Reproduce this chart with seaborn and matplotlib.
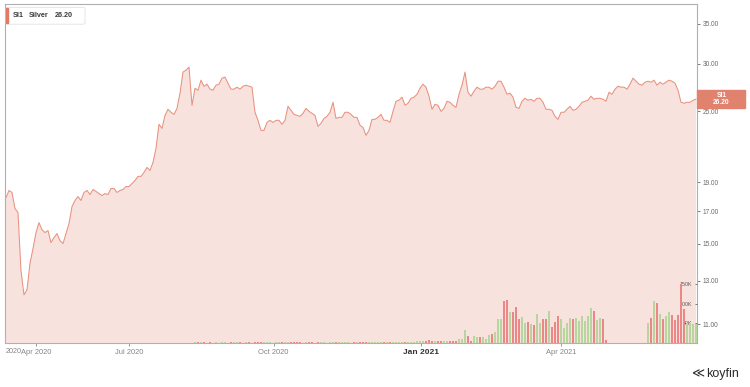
import numpy as np
import pandas as pd
import seaborn as sns
import matplotlib.pyplot as plt
from matplotlib.patches import Rectangle, FancyBboxPatch
from matplotlib.ticker import NullLocator

# -------------------------------------------------
# Data (SI1 silver continuous, one value per bar)
# -------------------------------------------------
price = [
    17.92, 18.42, 18.28, 17.18, 16.92, 13.52, 12.32, 12.56, 13.91, 14.72,
    15.66, 16.27, 15.84, 15.66, 15.78, 15.07, 15.36, 15.60, 15.18, 15.01,
    15.60, 16.21, 17.31, 17.72, 17.99, 17.72, 18.28, 18.42, 18.13, 18.49,
    18.35, 18.20, 18.06, 18.20, 18.13, 18.56, 18.56, 18.28, 18.42, 18.49,
    18.70, 18.70, 18.92, 19.14, 19.45, 19.45, 19.75, 20.13, 19.90, 20.52,
    21.67, 23.77, 23.40, 24.61, 25.19, 24.90, 24.70, 25.28, 26.80, 29.07,
    29.29, 29.64, 25.58, 27.32, 27.11, 28.18, 27.53, 27.75, 27.22, 27.11,
    27.64, 27.75, 28.40, 28.51, 27.85, 27.22, 27.22, 27.43, 27.22, 27.53,
    27.64, 27.53, 27.43, 24.90, 24.14, 23.22, 23.22, 23.95, 24.14, 23.95,
    24.14, 24.14, 23.77, 24.14, 25.48, 25.09, 24.70, 24.61, 24.51, 24.80,
    25.28, 24.99, 24.80, 24.61, 23.58, 23.86, 24.32, 24.51, 24.90, 25.88,
    24.32, 24.42, 24.42, 24.90, 24.90, 24.70, 24.42, 24.42, 23.68, 23.49,
    22.78, 23.22, 24.23, 24.23, 24.42, 24.70, 24.14, 24.14, 23.95, 24.99,
    25.98, 26.08, 26.39, 25.58, 25.78, 26.28, 26.39, 26.69, 27.32, 27.75,
    27.43, 26.49, 25.19, 25.68, 25.58, 24.99, 25.28, 25.98, 25.88, 25.58,
    25.38, 26.69, 27.64, 29.07, 26.90, 26.49, 27.01, 27.43, 27.22, 27.22,
    27.43, 27.43, 27.22, 27.53, 28.07, 28.07, 27.43, 26.69, 26.80, 26.39,
    25.38, 25.28, 25.98, 26.28, 26.08, 26.18, 25.98, 26.28, 26.28, 25.88,
    25.19, 25.19, 25.09, 24.51, 24.23, 24.90, 24.90, 25.19, 25.48, 25.09,
    25.19, 25.48, 25.88, 25.98, 26.08, 26.49, 26.18, 26.28, 26.28, 26.18,
    25.98, 26.90, 26.69, 27.22, 27.53, 27.43, 27.43, 27.22, 27.75, 28.40,
    28.07, 27.75, 27.64, 27.96, 28.07, 27.96, 28.18, 27.64, 27.96, 27.75,
    27.96, 28.18, 28.07, 27.85, 27.11, 25.88, 25.78, 25.88, 25.88, 26.08,
    26.20,
]

# volume, thousands of contracts
volume = [0] * 62 + [
    0, 1, 2, 2, 1, 0, 1, 0, 1, 0,
    1, 1, 0, 1, 2, 2, 1, 0, 1, 1,
    0, 1, 1, 2, 2, 1, 1, 0, 1, 1,
    2, 2, 2, 1, 1, 1, 1, 0, 1, 1,
    1, 0, 1, 1, 1, 0, 1, 2, 2, 2,
    1, 1, 1, 0, 1, 2, 2, 2, 1, 2,
    2, 1, 2, 2, 1, 2, 2, 1, 1, 1,
    2, 2, 2, 2, 2, 3, 5, 4, 3, 6,
    5, 4, 3, 5, 4, 3, 4, 5, 4,
    8, 8, 33, 16, 5, 16, 15, 13, 13, 8,
    19, 22, 26, 59, 59, 106, 110, 78, 78, 91,
    61, 65, 50, 53, 47, 46, 74, 50, 59, 60,
    81, 40, 53, 69, 61, 36, 50, 63, 59, 63,
    54, 69, 55, 67, 89, 80, 57, 63, 60, 6,
    0, 0, 0, 0, 0, 0, 0, 0, 0, 0,
    0, 0, 0, 50, 63, 106, 101, 74, 61, 67,
    78, 71, 57, 71, 150, 85, 50, 50, 47, 47,
]

month_labels = ["Apr 2020", "Jul 2020", "Oct 2020", "Jan 2021", "Apr 2021"]
month_bars = [10.0, 41.1, 89.2, 138.3, 185.1]
price_ticks = [11, 13, 15, 17, 19, 25, 30, 35]
volume_ticks = [50, 100, 150]

df = pd.DataFrame({"bar": np.arange(len(price)), "price": price, "volume": volume})
df["dir"] = np.where(df["price"].diff().fillna(0) >= 0, "up", "down")

# -------------------------------------------------
# Figure
# -------------------------------------------------
sns.set_theme(style="white")
plt.rcParams["font.family"] = ["Liberation Sans", "DejaVu Sans"]

W, H = 750, 387
fig = plt.figure(figsize=(W / 100, H / 100), dpi=100)
L, R, T, B = 5.3, 697, 4, 342.5
ax = fig.add_axes([L / W, 1 - B / H, (R - L) / W, (B - T) / H])

ax.set_yscale("log")
ax.fill_between(df["bar"], df["price"], 1, color="#f8e2de", lw=0, zorder=1)
sns.lineplot(data=df, x="bar", y="price", color="#e8927f", lw=0.75, ax=ax, zorder=2)

ax2 = ax.twinx()
sns.barplot(
    data=df, x="bar", y="volume", hue="dir",
    palette={"up": "#b7d59e", "down": "#ec8787"},
    native_scale=True, dodge=False, width=0.75, linewidth=0,
    saturation=1, legend=False, ax=ax2,
)

ax.set_xlim(-0.23, 230.33)
ax.set_ylim(10.25, 37.8)
ax2.set_ylim(0, 868)

# price axis on the right
ax.yaxis.tick_right()
ax.set_yticks(price_ticks)
ax.set_yticklabels([f"{v:.2f}" for v in price_ticks])
ax.yaxis.set_minor_locator(NullLocator())
ax.tick_params(axis="y", which="major", length=2, width=0.6, color="#666",
               pad=2, labelsize=4.7, labelcolor="#6a6a6a", left=False, right=True)

# month ticks
ax.set_xticks(month_bars)
ax.set_xticklabels(month_labels)
ax.tick_params(axis="x", length=2.5, width=0.6, color="#888", pad=2.5,
               labelsize=5.4, labelcolor="#858585", bottom=True)
for lbl in ax.get_xticklabels():
    if lbl.get_text() == "Jan 2021":
        lbl.set_color("#333333")
        lbl.set_fontsize(6)
        lbl.set_fontweight("semibold")
ax.text(2.6, -0.0148, "2020", transform=ax.get_xaxis_transform(),
        ha="center", va="top", fontsize=5.2, color="#858585")

# volume axis, labels inside the plot
ax2.set_yticks(volume_ticks)
ax2.set_yticklabels([f"{v}K" for v in volume_ticks])
ax2.tick_params(axis="y", direction="in", length=1.5, width=0.6, color="#666",
                pad=-3.5, labelsize=3.8, labelcolor="#555")
for lbl in ax2.get_yticklabels():
    lbl.set_horizontalalignment("right")

for a in (ax, ax2):
    a.set_xlabel("")
    a.set_ylabel("")
for s in ax.spines.values():
    s.set_color("#b0b0b0")
    s.set_linewidth(0.8)
for s in ax2.spines.values():
    s.set_visible(False)

# -------------------------------------------------
# Last price box on the right axis
# -------------------------------------------------
y_last = ax.transData.transform((0, price[-1]))[1] / fig.bbox.height
fig.patches.append(Rectangle((R / W, y_last - 9 / H), 48 / W, 18 / H,
                             transform=fig.transFigure, color="#e0826e"))
fig.text((R + 24.5) / W, y_last, f"SI1\n{price[-1]:.2f}", ha="center", va="center",
         color="white", fontsize=4.8, fontweight="bold", linespacing=1.1)

# -------------------------------------------------
# Legend box (top left)
# -------------------------------------------------
fig.patches.append(FancyBboxPatch((6 / W, 1 - 24.2 / H), 79 / W, 16.8 / H,
                                  boxstyle="round,pad=0,rounding_size=0.003",
                                  transform=fig.transFigure, fc="white",
                                  ec="#e2e2e2", lw=0.6))
fig.patches.append(Rectangle((6.3 / W, 1 - 23.4 / H), 2 / W, 15 / H,
                             transform=fig.transFigure, color="#e07a66"))
for x_px, txt in [(13, "SI1"), (28.5, "Silver"), (55, f"{price[-1]:.2f}")]:
    fig.text(x_px / W, 1 - 15.8 / H, txt, ha="left", va="center",
             fontsize=5.2, fontweight="bold", color="#3c3c3c")

# koyfin logo
fig.text(739 / W, 1 - 374 / H, "koyfin", ha="right", va="center",
         fontsize=9, color="#2b2b2b")
fig.text(704 / W, 1 - 374 / H, "≪", ha="right", va="center",
         fontsize=9, color="#2b2b2b", family="DejaVu Sans")

fig.savefig("out.png", dpi=100)
